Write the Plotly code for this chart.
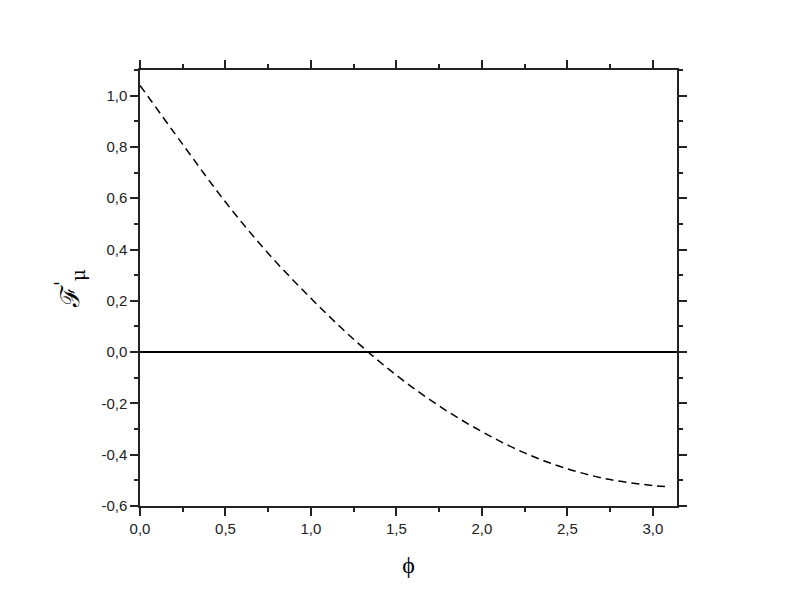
import numpy as np
import plotly.graph_objects as go

phi = [0.0, 0.25, 0.5, 0.75, 1.0, 1.25, 1.5, 1.75, 2.0, 2.25, 2.5, 2.75, 3.0, 3.1]
F_mu = [1.04, 0.81, 0.585, 0.385, 0.21, 0.05, -0.09, -0.21, -0.31, -0.393, -0.455, -0.497, -0.52, -0.525]

x_ticks = [0.0, 0.5, 1.0, 1.5, 2.0, 2.5, 3.0]
y_ticks = [-0.6, -0.4, -0.2, 0.0, 0.2, 0.4, 0.6, 0.8, 1.0]
x_labels = [f"{v:.1f}".replace(".", ",") for v in x_ticks]
y_labels = [f"{v:.1f}".replace(".", ",") for v in y_ticks]

fig = go.Figure()
fig.add_trace(go.Scatter(
    x=phi, y=F_mu, mode="lines",
    line=dict(color="black", width=1.5, dash="8px,5px", shape="spline"),
    showlegend=False,
))

axis_common = dict(
    showline=True, linecolor="#222", linewidth=1.5,
    ticks="outside", ticklen=8, tickwidth=1.5, tickcolor="#222",
    mirror="allticks", showgrid=False,
    tickfont=dict(family="Liberation Sans, Arial", size=15, color="#222"),
)

fig.update_xaxes(
    range=[0, np.pi], tickvals=x_ticks, ticktext=x_labels,
    minor=dict(dtick=0.25, tick0=0, ticklen=4, ticks="outside", tickwidth=1.5, tickcolor="#222"),
    zeroline=False,
    title=dict(text="ϕ", font=dict(family="Liberation Serif, Times New Roman", size=24, color="black"), standoff=20),
    **axis_common,
)
fig.update_yaxes(
    range=[-0.6, 1.1], tickvals=y_ticks, ticktext=y_labels,
    minor=dict(dtick=0.1, tick0=0, ticklen=4, ticks="outside", tickwidth=1.5, tickcolor="#222"),
    zeroline=True, zerolinecolor="black", zerolinewidth=1.5,
    title=dict(text="ℱ<sup>'</sup><sub>μ</sub>", font=dict(family="DejaVu Serif, Liberation Serif", size=26, color="black"), standoff=14),
    **axis_common,
)

fig.update_layout(
    width=785, height=606,
    margin=dict(l=132, r=116, t=62, b=108),
    paper_bgcolor="white", plot_bgcolor="white",
    separators=",.",
)

fig.write_html("out.html")
